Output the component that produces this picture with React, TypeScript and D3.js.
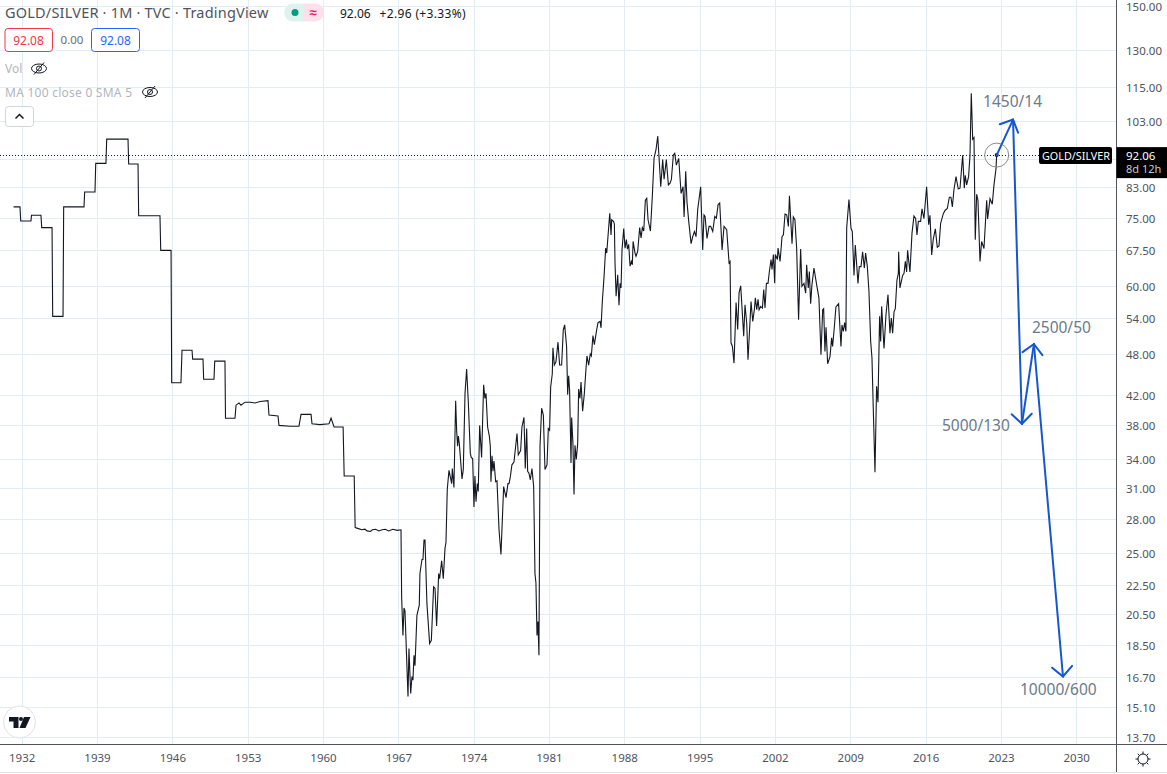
import React, { useEffect, useRef } from 'react';
import * as d3 from 'd3';

// [year, gold/silver ratio]
const stepsEarly: [number, number][] = [
  [1931.24, 77.7], [1931.84, 77.7], [1931.91, 74.2], [1932.86, 74.2], [1932.91, 75.6], [1933.79, 75.6],
  [1933.86, 72.6], [1934.82, 72.6], [1934.88, 54.3], [1935.84, 54.3], [1935.9, 77.7], [1937.79, 77.7],
  [1937.85, 81.6], [1938.81, 81.6], [1938.88, 89.6], [1939.83, 89.6], [1939.9, 97.0], [1941.88, 97.0],
  [1941.94, 89.4], [1942.81, 89.4], [1942.87, 75.5], [1944.85, 75.5], [1944.92, 67.4], [1945.88, 67.4],
  [1945.94, 43.7], [1946.8, 43.7], [1946.9, 48.6], [1947.83, 48.6], [1947.89, 47.2], [1948.85, 47.2],
  [1948.91, 44.2], [1949.87, 44.2], [1949.94, 46.9], [1950.89, 46.9], [1950.94, 38.9], [1951.82, 38.9],
];

const stepsLate: [number, number][] = [
  [1951.92, 40.6], [1952.19, 40.9], [1952.38, 40.6], [1952.75, 41.0], [1953.22, 41.0], [1953.68, 40.9],
  [1954.15, 41.1], [1954.89, 41.2], [1954.98, 39.3], [1955.82, 39.2], [1955.91, 38.0], [1956.93, 37.9],
  [1957.77, 37.9], [1957.96, 39.4], [1958.89, 39.4], [1958.98, 38.2], [1959.72, 38.1], [1960.56, 38.2],
  [1960.75, 38.9], [1961.03, 37.8], [1961.87, 37.8], [1961.97, 32.2], [1962.9, 32.2], [1962.99, 27.2],
  [1963.3, 27.1], [1963.6, 27.0], [1963.9, 27.05], [1964.1, 26.9], [1964.4, 26.85], [1964.6, 27.0],
  [1964.9, 27.05], [1965.2, 26.9], [1965.5, 27.0], [1965.8, 27.05], [1966.1, 26.9], [1966.5, 27.05],
  [1966.9, 26.95], [1967.25, 27.0],
];

const ratios1967: [number, number][] = [
  [1967.31, 21.7], [1967.43, 19.1], [1967.53, 20.9], [1967.62, 20.7], [1967.9, 15.64], [1967.99, 18.3],
  [1968.15, 15.8], [1968.27, 16.7], [1968.36, 16.5], [1968.46, 17.9], [1968.55, 17.3], [1968.73, 20.4],
  [1968.95, 21.1], [1969.01, 23.4], [1969.2, 24.5], [1969.29, 24.5], [1969.39, 26.1], [1969.48, 26.1],
  [1969.66, 21.2], [1969.91, 18.6], [1970.07, 18.8], [1970.28, 22.4], [1970.41, 22.3], [1970.56, 19.7],
  [1970.66, 21.5], [1970.75, 23.4], [1970.84, 23.0], [1971.03, 24.4], [1971.18, 23.0], [1971.34, 25.4],
  [1971.43, 25.9], [1971.55, 30.8], [1971.71, 32.8], [1971.96, 31.4], [1972.02, 33.0], [1972.17, 31.0],
  [1972.33, 41.2], [1972.42, 37.4], [1972.51, 35.5], [1972.58, 36.7], [1972.67, 35.8], [1972.92, 31.9],
  [1973.04, 32.9], [1973.2, 42.2], [1973.35, 45.7], [1973.51, 40.9], [1973.69, 34.7], [1973.78, 34.2],
  [1973.91, 34.1], [1974.03, 29.1], [1974.12, 32.2], [1974.22, 29.6], [1974.34, 31.4], [1974.43, 30.6],
  [1974.56, 38.0], [1974.74, 34.2], [1974.93, 43.4], [1975.05, 41.5], [1975.15, 42.2], [1975.3, 37.8],
  [1975.46, 36.7], [1975.55, 35.5], [1975.61, 31.6], [1975.71, 34.4], [1975.8, 32.7], [1975.89, 33.8],
  [1976.05, 31.6], [1976.17, 31.7], [1976.36, 27.0], [1976.54, 24.9], [1976.79, 31.1], [1977.01, 30.0],
  [1977.19, 31.4], [1977.29, 31.4], [1977.41, 32.1], [1977.56, 33.4], [1977.75, 33.7], [1978.03, 37.0],
  [1978.15, 34.5], [1978.37, 35.0], [1978.49, 37.8], [1978.68, 39.0], [1978.8, 33.0], [1978.93, 37.6],
  [1979.02, 32.7], [1979.14, 32.5], [1979.27, 31.8], [1979.42, 33.0], [1979.58, 31.1], [1979.7, 23.4],
  [1979.79, 22.7], [1979.89, 19.1], [1979.98, 20.0], [1980.07, 17.9], [1980.17, 35.5], [1980.32, 40.2],
  [1980.48, 39.3], [1980.63, 32.9], [1980.82, 33.4], [1980.94, 37.6], [1981.06, 37.4], [1981.16, 43.1],
  [1981.31, 45.0], [1981.37, 49.0], [1981.5, 46.3], [1981.65, 46.8], [1981.84, 49.9], [1981.99, 46.3],
  [1982.18, 46.3], [1982.33, 51.9], [1982.46, 52.8], [1982.64, 49.2], [1982.74, 42.0], [1982.83, 44.7],
  [1982.92, 42.6], [1983.05, 33.6], [1983.11, 39.0], [1983.23, 35.8], [1983.33, 30.3], [1983.42, 35.6],
  [1983.54, 34.0], [1983.67, 35.8], [1983.76, 42.8], [1983.88, 41.5], [1983.98, 43.8], [1984.13, 39.8],
  [1984.29, 42.2], [1984.41, 45.0], [1984.53, 47.7], [1984.69, 46.3], [1984.84, 48.0], [1984.94, 47.7],
  [1985.09, 51.0], [1985.22, 49.5], [1985.43, 51.9],
];

const ratios1985: [number, number][] = [
  [1985.56, 53.2], [1985.75, 53.4], [1985.84, 52.3], [1985.96, 57.0], [1986.12, 61.8], [1986.27, 67.9],
  [1986.37, 66.8], [1986.65, 76.1], [1986.77, 70.9], [1986.83, 74.5], [1986.99, 74.1], [1987.08, 73.5],
  [1987.14, 64.7], [1987.24, 58.0], [1987.39, 62.2], [1987.51, 56.3], [1987.61, 60.5], [1987.7, 59.6],
  [1987.79, 67.5], [1987.95, 72.4], [1988.07, 67.9], [1988.2, 69.8], [1988.29, 67.7], [1988.41, 68.7],
  [1988.54, 64.0], [1988.66, 65.0], [1988.75, 64.3], [1988.82, 69.4], [1989.0, 66.8], [1989.09, 66.1],
  [1989.25, 67.2], [1989.43, 72.6], [1989.56, 70.2], [1989.68, 72.6], [1989.81, 71.8], [1989.96, 79.4],
  [1990.09, 79.9], [1990.21, 74.5], [1990.43, 71.8], [1990.61, 80.6], [1990.77, 91.2], [1990.95, 93.7],
  [1991.11, 98.0], [1991.26, 89.8], [1991.39, 83.0], [1991.57, 90.7], [1991.7, 85.1], [1991.91, 90.7],
  [1992.1, 83.5], [1992.25, 84.0], [1992.38, 85.0], [1992.56, 92.1], [1992.69, 92.6], [1992.84, 89.1],
  [1993.06, 91.1], [1993.28, 81.2], [1993.46, 83.0], [1993.56, 75.2], [1993.71, 87.3], [1993.83, 78.9],
  [1993.99, 74.1], [1994.21, 68.9], [1994.36, 70.5], [1994.52, 71.7], [1994.67, 70.5], [1994.83, 77.2],
  [1995.1, 83.0], [1995.29, 67.5], [1995.41, 75.7], [1995.51, 75.3], [1995.69, 70.1], [1995.88, 72.9],
  [1996.03, 72.9], [1996.22, 71.7], [1996.41, 75.3], [1996.56, 74.9], [1996.72, 78.3], [1996.87, 78.7],
  [1997.09, 67.5], [1997.27, 72.9], [1997.52, 72.1], [1997.74, 64.7], [1997.83, 65.0], [1997.92, 49.8],
  [1998.05, 49.2], [1998.2, 46.6], [1998.39, 56.8], [1998.54, 52.0], [1998.67, 58.7], [1998.82, 60.0],
  [1999.1, 50.9], [1999.22, 56.4], [1999.38, 53.1], [1999.5, 47.1], [1999.78, 57.0], [1999.94, 53.4],
  [2000.09, 55.5], [2000.18, 57.7], [2000.31, 55.5], [2000.43, 57.4], [2000.53, 55.5], [2000.68, 56.1],
  [2000.84, 55.8], [2000.96, 59.3], [2001.08, 55.8], [2001.21, 60.5], [2001.36, 60.5], [2001.49, 63.0],
  [2001.64, 65.4], [2001.73, 63.3], [2001.86, 66.5], [2001.98, 60.5], [2002.04, 66.5], [2002.23, 65.4],
  [2002.29, 67.9], [2002.48, 65.0], [2002.66, 70.5], [2002.79, 70.9], [2002.94, 75.9], [2003.1, 75.7],
  [2003.25, 72.9], [2003.35, 80.6],
];

const ratios2003: [number, number][] = [
  [2003.59, 68.9], [2003.71, 75.2], [2003.86, 74.5], [2004.02, 67.8], [2004.2, 53.7], [2004.39, 67.7],
  [2004.51, 59.9], [2004.7, 60.5], [2004.86, 58.6], [2004.95, 64.3], [2005.1, 59.6], [2005.2, 62.9],
  [2005.32, 56.6], [2005.44, 60.2], [2005.63, 63.6], [2005.88, 60.2], [2006.09, 57.7], [2006.28, 47.9],
  [2006.44, 55.5], [2006.53, 55.7], [2006.65, 48.4], [2006.75, 52.4], [2006.9, 46.5], [2007.12, 47.6],
  [2007.27, 50.6], [2007.36, 49.2], [2007.52, 52.4], [2007.67, 56.0], [2007.92, 56.6], [2008.14, 49.2],
  [2008.23, 52.8], [2008.36, 51.7], [2008.48, 53.2], [2008.6, 51.7], [2008.67, 72.5], [2008.88, 79.6],
  [2009.07, 72.5], [2009.19, 71.7], [2009.35, 62.1], [2009.47, 68.6], [2009.72, 60.5], [2009.84, 63.9],
  [2010.0, 63.9], [2010.15, 67.1], [2010.31, 63.6], [2010.43, 66.8], [2010.59, 63.9], [2010.74, 58.9],
  [2010.9, 50.0], [2011.02, 47.4], [2011.14, 40.2], [2011.3, 32.6], [2011.45, 43.2], [2011.58, 41.0],
  [2011.73, 54.3], [2011.83, 50.0], [2011.92, 56.1], [2012.14, 48.9], [2012.32, 54.6], [2012.51, 58.3],
  [2012.69, 51.4], [2012.82, 54.0], [2012.94, 51.4], [2013.07, 55.1], [2013.19, 55.7], [2013.34, 61.1],
  [2013.47, 62.5], [2013.5, 67.1], [2013.62, 59.6], [2013.87, 62.1], [2014.0, 62.5], [2014.12, 65.0],
  [2014.24, 62.8], [2014.33, 67.4], [2014.55, 62.8], [2014.74, 71.3], [2014.92, 75.4], [2015.08, 74.8],
  [2015.2, 70.9], [2015.33, 74.1], [2015.54, 74.1], [2015.67, 77.2], [2015.85, 74.8], [2016.1, 83.0],
  [2016.29, 73.3], [2016.41, 75.6], [2016.57, 66.4], [2016.72, 70.0], [2016.91, 72.3], [2017.09, 68.1],
  [2017.25, 68.4], [2017.4, 73.6], [2017.65, 76.0], [2017.81, 76.8], [2018.02, 77.3], [2018.21, 80.2],
  [2018.36, 80.2], [2018.49, 77.7], [2018.64, 82.2], [2018.83, 85.8], [2019.04, 82.4], [2019.2, 82.6],
  [2019.45, 92.0], [2019.6, 82.6], [2019.69, 86.2], [2019.82, 83.5], [2020.0, 85.8], [2020.13, 92.0],
  [2020.25, 112.7], [2020.38, 97.0], [2020.5, 97.5], [2020.62, 69.8], [2020.75, 81.0], [2020.87, 79.4],
  [2021.06, 65.0], [2021.21, 69.4], [2021.43, 67.8], [2021.68, 79.4], [2021.77, 74.7], [2021.99, 79.8],
  [2022.2, 78.4], [2022.36, 83.5], [2022.55, 88.2], [2022.61, 92.06],
];

const lastPoint: [number, number] = [2022.61, 92.06];

// hand drawn forecast arrows, and the notes next to them
const forecast: [number, number][] = [[2024.13, 103.4], [2024.96, 38.2], [2026.07, 49.6], [2028.77, 16.7]];
const forecastNotes = ['1450/14', '5000/130', '2500/50', '10000/600'];

const yearTicks = [1932, 1939, 1946, 1953, 1960, 1967, 1974, 1981, 1988, 1995, 2002, 2009, 2016, 2023, 2030];
const priceTicks = [150, 130, 115, 103, 83, 75, 67.5, 60, 54, 48, 42, 38, 34, 31, 28, 25, 22.5, 20.5, 18.5, 16.7, 15.1, 13.7];
const hiddenPriceTicks = [91];

const FONT = '"Noto Sans", sans-serif';

const App: React.FC = () => {
  const chartRef = useRef<SVGSVGElement | null>(null);

  useEffect(() => {
    if (!chartRef.current) return;

    const width = 1167;
    const height = 774;
    const axisX = 1116.5;
    const axisY = 744.5;
    const gridColor = '#e2ecf3';
    const axisText = '#50535e';
    const noteColor = '#6b7b8c';
    const arrowColor = '#1557d0';

    d3.select(chartRef.current).selectAll('*').remove();

    const svg = d3.select(chartRef.current).attr('width', width).attr('height', height);
    svg.style('font-family', FONT);

    const x = d3.scaleLinear().domain([1932, 2030]).range([21.7, 1076.2]);
    const y = d3.scaleLog().domain([13.7, 150]).range([737, 6]);

    // Grid
    const grid = svg.append('g').attr('stroke', gridColor).attr('stroke-width', 1);
    yearTicks.forEach((t) => {
      grid.append('line').attr('x1', Math.round(x(t)) + 0.5).attr('x2', Math.round(x(t)) + 0.5).attr('y1', 0).attr('y2', axisY);
    });
    [...priceTicks, ...hiddenPriceTicks].forEach((t) => {
      grid.append('line').attr('x1', 0).attr('x2', axisX).attr('y1', Math.round(y(t)) + 0.5).attr('y2', Math.round(y(t)) + 0.5);
    });

    // Axes
    const timeAxis = svg
      .append('g')
      .attr('transform', `translate(0,${axisY})`)
      .call(d3.axisBottom(x).tickValues(yearTicks).tickFormat(d3.format('d')).tickSize(0).tickPadding(9));
    const priceAxis = svg
      .append('g')
      .attr('transform', `translate(${axisX},0.8)`)
      .call(d3.axisRight(y).tickValues(priceTicks).tickFormat(d3.format('.2f')).tickSize(0).tickPadding(9.5));
    [timeAxis, priceAxis].forEach((a) => {
      a.select('.domain').remove();
      a.selectAll('text').attr('fill', axisText).attr('font-size', 11.5).attr('font-family', FONT);
    });

    svg.append('line').attr('x1', 0).attr('x2', width).attr('y1', axisY).attr('y2', axisY).attr('stroke', axisText);
    svg.append('line').attr('x1', axisX).attr('x2', axisX).attr('y1', 0).attr('y2', height - 2).attr('stroke', axisText);
    svg.append('line').attr('x1', 0).attr('x2', width).attr('y1', 772.5).attr('y2', 772.5).attr('stroke', '#e0e3eb');

    // Last price line
    svg
      .append('line')
      .attr('x1', 0)
      .attr('x2', 1040)
      .attr('y1', Math.round(y(lastPoint[1])) + 0.5)
      .attr('y2', Math.round(y(lastPoint[1])) + 0.5)
      .attr('stroke', '#131722')
      .attr('stroke-dasharray', '1 2');

    // Ratio line
    const line = d3
      .line<[number, number]>()
      .x((d) => x(d[0]))
      .y((d) => y(d[1]));
    svg
      .append('path')
      .attr('d', line([...stepsEarly, ...stepsLate, ...ratios1967, ...ratios1985, ...ratios2003]))
      .attr('fill', 'none')
      .attr('stroke', '#131722')
      .attr('stroke-width', 1.1);

    // Marker on the last point
    svg.append('circle').attr('cx', x(lastPoint[0])).attr('cy', y(lastPoint[1])).attr('r', 12).attr('fill', 'none').attr('stroke', '#8c8c8c');
    svg.append('circle').attr('cx', x(lastPoint[0])).attr('cy', y(lastPoint[1])).attr('r', 2).attr('fill', '#131722');

    // Forecast arrows
    const stops = [lastPoint, ...forecast];
    const arrows = svg.append('g').attr('fill', 'none').attr('stroke', arrowColor).attr('stroke-width', 2).attr('stroke-linecap', 'round');
    forecast.forEach((tip, i) => {
      const from = stops[i];
      const x0 = x(from[0]);
      const y0 = y(from[1]);
      const x1 = x(tip[0]);
      const y1 = y(tip[1]);
      const angle = Math.atan2(y1 - y0, x1 - x0);
      const barb = (da: number) => `${x1 - 14 * Math.cos(angle + da)},${y1 - 14 * Math.sin(angle + da)}`;
      arrows.append('path').attr('d', `M${x0},${y0}L${x1},${y1}`);
      arrows.append('path').attr('d', `M${barb(0.8)}L${x1},${y1}L${barb(-0.8)}`);
    });

    // Notes on the arrows
    const noteOffsets = [[-30, -13], [-80, 7], [-2, -11], [-43, 18]];
    forecast.forEach((tip, i) => {
      svg
        .append('text')
        .attr('x', x(tip[0]) + noteOffsets[i][0])
        .attr('y', y(tip[1]) + noteOffsets[i][1])
        .attr('fill', noteColor)
        .attr('font-size', 15.5)
        .text(forecastNotes[i]);
    });

    // Last price labels
    const labelY = y(lastPoint[1]);
    svg.append('rect').attr('x', 1039).attr('y', labelY - 8).attr('width', 73).attr('height', 17).attr('rx', 2).attr('fill', '#000');
    svg.append('text').attr('x', 1076).attr('y', labelY + 4.5).attr('text-anchor', 'middle').attr('fill', '#fff').attr('font-size', 10.8).text('GOLD/SILVER');
    svg.append('rect').attr('x', axisX).attr('y', labelY - 8).attr('width', width - axisX).attr('height', 31).attr('fill', '#000');
    svg.append('text').attr('x', 1126).attr('y', labelY + 4.5).attr('fill', '#fff').attr('font-size', 11.5).text(d3.format('.2f')(lastPoint[1]));
    svg.append('text').attr('x', 1126).attr('y', labelY + 18).attr('fill', '#c8cad0').attr('font-size', 11).text('8d 12h');

    // Header
    const head = svg.append('g');
    head.append('text').attr('x', 5).attr('y', 18).attr('fill', '#50535e').attr('font-size', 14.5).attr('letter-spacing', 0.2).text('GOLD/SILVER · 1M · TVC · TradingView');
    head.append('path').attr('d', 'M303,3.5H293a9,9 0 0 0 0,18H303Z').attr('fill', '#dff3ee');
    head.append('path').attr('d', 'M303,3.5H315a9,9 0 0 1 0,18H303Z').attr('fill', '#fce0ea');
    head.append('circle').attr('cx', 295).attr('cy', 12.5).attr('r', 3.5).attr('fill', '#089981');
    head.append('text').attr('x', 313).attr('y', 17).attr('text-anchor', 'middle').attr('fill', '#d81b60').attr('font-size', 13).attr('font-weight', 700).text('≈');
    head.append('text').attr('x', 340).attr('y', 18).attr('fill', '#131722').attr('font-size', 12).text('92.06');
    head.append('text').attr('x', 379.5).attr('y', 18).attr('fill', '#131722').attr('font-size', 12).attr('letter-spacing', 0.35).text('+2.96 (+3.33%)');

    head.append('rect').attr('x', 5).attr('y', 28.5).attr('width', 47.5).attr('height', 23).attr('rx', 3).attr('fill', '#fff').attr('stroke', '#f23645');
    head.append('text').attr('x', 28.5).attr('y', 44.5).attr('text-anchor', 'middle').attr('fill', '#f23645').attr('font-size', 12).text('92.08');
    head.append('text').attr('x', 72).attr('y', 44).attr('text-anchor', 'middle').attr('fill', '#6a6d78').attr('font-size', 11.5).text('0.00');
    head.append('rect').attr('x', 91.5).attr('y', 28.5).attr('width', 48).attr('height', 23).attr('rx', 3).attr('fill', '#fff').attr('stroke', '#2962ff');
    head.append('text').attr('x', 115.5).attr('y', 44.5).attr('text-anchor', 'middle').attr('fill', '#2962ff').attr('font-size', 12).text('92.08');

    head.append('text').attr('x', 5).attr('y', 73).attr('fill', '#b2b5be').attr('font-size', 12).text('Vol');
    head.append('text').attr('x', 5).attr('y', 97).attr('fill', '#b2b5be').attr('font-size', 12).attr('letter-spacing', 0.25).text('MA 100 close 0 SMA 5');
    [[39, 68.5], [150, 92]].forEach(([cx, cy]) => {
      const eye = head.append('g').attr('transform', `translate(${cx},${cy})`).attr('fill', 'none').attr('stroke', '#131722').attr('stroke-width', 1);
      eye.append('ellipse').attr('rx', 7.5).attr('ry', 4.5);
      eye.append('circle').attr('r', 2.5);
      eye.append('line').attr('x1', -5).attr('y1', 6).attr('x2', 5).attr('y2', -6);
    });
    head.append('rect').attr('x', 5.5).attr('y', 106.5).attr('width', 28).attr('height', 20).attr('rx', 3).attr('fill', '#fff').attr('stroke', '#d1d4dc');
    head.append('path').attr('d', 'M15.5,118.5L19.5,114.5L23.5,118.5').attr('fill', 'none').attr('stroke', '#131722').attr('stroke-width', 1.5);

    // Logo
    svg.append('circle').attr('cx', 19.5).attr('cy', 722).attr('r', 16).attr('fill', '#fff').attr('stroke', '#e0e3eb');
    svg.append('path').attr('d', 'M9,717H18.5V728H13.5V721.5H9ZM24,717H30.5L25.5,728H19.5Z').attr('fill', '#131722');
    svg.append('circle').attr('cx', 21).attr('cy', 719).attr('r', 2).attr('fill', '#131722');

    // Settings gear
    const gear = svg.append('g').attr('transform', 'translate(1143,759)').attr('fill', 'none').attr('stroke', '#131722');
    gear.append('circle').attr('r', 5);
    d3.range(8).forEach((i) => {
      const a = (i * Math.PI) / 4;
      gear.append('line').attr('x1', 5 * Math.cos(a)).attr('y1', 5 * Math.sin(a)).attr('x2', 7.5 * Math.cos(a)).attr('y2', 7.5 * Math.sin(a));
    });
  }, []);

  return <svg ref={chartRef} style={{ position: 'absolute', left: 0, top: 0, display: 'block' }}></svg>;
};

export default App;
